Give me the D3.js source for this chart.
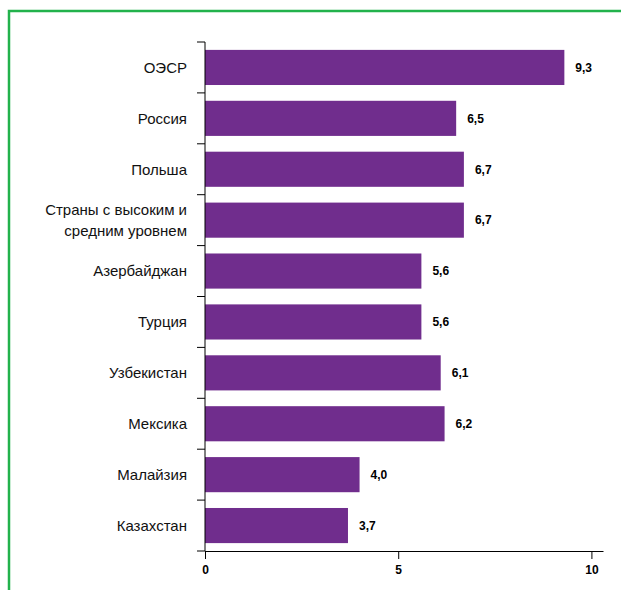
<!DOCTYPE html>
<html>
<head>
<meta charset="utf-8">
<script src="https://cdn.jsdelivr.net/npm/d3@7"></script>
<style>
  body { margin: 0; background: #fff; }
  text { font-family: "Liberation Sans", Arial, sans-serif; }
</style>
</head>
<body>
<div id="chart"></div>
<script>
let categories = [
  ['ОЭСР'],
  ['Россия'],
  ['Польша'],
  ['Страны с высоким и', 'средним уровнем'],
  ['Азербайджан'],
  ['Турция'],
  ['Узбекистан'],
  ['Мексика'],
  ['Малайзия'],
  ['Казахстан']
]
let values = [9.3, 6.5, 6.7, 6.7, 5.6, 5.6, 6.1, 6.2, 4.0, 3.7]
let xTicks = [0, 5, 10]

let margin = { top: 42, left: 205, right: 18, bottom: 39 }
let width = 621 - margin.left - margin.right
let height = 590 - margin.top - margin.bottom

let root = d3.select('#chart')
  .append('svg')
  .attr('width', 621)
  .attr('height', 590)

// green frame (left + top only)
root.append('path')
  .attr('d', 'M9,590 V11 H621')
  .attr('fill', 'none')
  .attr('stroke', '#22b24c')
  .attr('stroke-width', 2.5)

let svg = root.append('g')
  .attr('transform', `translate(${margin.left}, ${margin.top})`)

let data = categories.map((c, i) => ({ lines: c, value: values[i], key: c.join(' ') }))

let xPositionScale = d3.scaleLinear().domain([0, 10.3]).range([0, width])
let yPositionScale = d3.scaleBand()
  .domain(data.map(d => d.key))
  .range([0, height])
  .paddingInner(0.31)
  .paddingOuter(0.155)

let step = yPositionScale.step()
let fmt = v => d3.format('.1f')(v).replace('.', ',')

svg.selectAll('.bar')
  .data(data)
  .enter()
  .append('rect')
  .attr('class', 'bar')
  .attr('x', 0)
  .attr('y', d => yPositionScale(d.key))
  .attr('width', d => xPositionScale(d.value))
  .attr('height', yPositionScale.bandwidth())
  .attr('fill', '#702d8d')

svg.selectAll('.value')
  .data(data)
  .enter()
  .append('text')
  .attr('class', 'value')
  .attr('x', d => xPositionScale(d.value) + 11)
  .attr('y', d => yPositionScale(d.key) + yPositionScale.bandwidth() / 2)
  .attr('dy', '0.36em')
  .attr('font-size', 12)
  .attr('font-weight', 'bold')
  .text(d => fmt(d.value))

// category labels
let labels = svg.selectAll('.label')
  .data(data)
  .enter()
  .append('text')
  .attr('class', 'label')
  .attr('text-anchor', 'end')
  .attr('font-size', 15)
  .attr('fill', '#111')
  .attr('y', d => yPositionScale(d.key) + yPositionScale.bandwidth() / 2)

labels.selectAll('tspan')
  .data(d => d.lines.map((l, i) => ({ l, i, n: d.lines.length })))
  .enter()
  .append('tspan')
  .attr('x', -18)
  .attr('dy', d => d.i === 0 ? (0.36 - (d.n - 1) * 0.7) + 'em' : '1.4em')
  .text(d => d.l)

// y axis: line with ticks at band boundaries
let boundaries = d3.range(data.length + 1).map(i => i * step)
svg.append('line')
  .attr('x1', 0).attr('x2', 0)
  .attr('y1', 0).attr('y2', height)
  .attr('stroke', '#000')
svg.selectAll('.ytick')
  .data(boundaries)
  .enter()
  .append('line')
  .attr('class', 'ytick')
  .attr('x1', -8).attr('x2', 0)
  .attr('y1', d => d).attr('y2', d => d)
  .attr('stroke', '#000')

// x axis
let xAxis = d3.axisBottom(xPositionScale)
  .tickValues(xTicks)
  .tickSize(8)
  .tickSizeOuter(0)
  .tickPadding(6)
svg.append('g')
  .attr('class', 'axis x-axis')
  .attr('transform', `translate(0, ${height})`)
  .call(xAxis)
  .call(g => g.selectAll('text').attr('font-size', 12).attr('font-weight', 'bold').attr('font-family', '"Liberation Sans", Arial, sans-serif'))
</script>
</body>
</html>
